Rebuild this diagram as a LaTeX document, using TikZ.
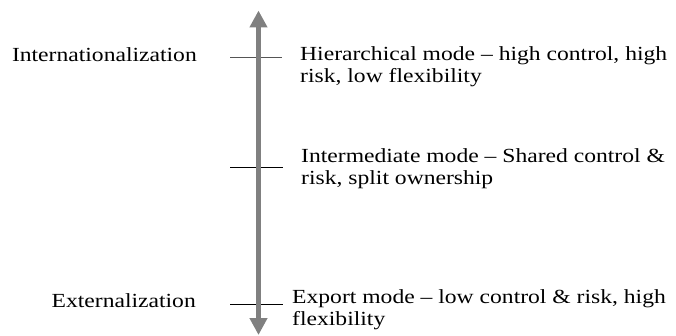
\documentclass[tikz,border=0pt]{standalone}
\usepackage{fontspec}
\setmainfont{Liberation Serif}[FakeStretch=1.18]
\usetikzlibrary{arrows.meta}
\definecolor{axisgray}{RGB}{128,128,128}
\definecolor{tickgray}{RGB}{85,85,85}
\tikzset{
  axis/.style={line width=5.5pt, draw=axisgray,
    {Triangle[length=17pt,width=17pt]}-{Triangle[length=17pt,width=17pt]}},
  tickline/.style={line width=1pt, draw=black},
  lbl/.style={inner sep=0pt, anchor=base west, font=\fontsize{20}{22}\selectfont},
  side/.style={inner sep=0pt, anchor=base east, font=\fontsize{20}{22}\selectfont},
}
\newcommand{\twolines}[2]{\begin{tabular}[t]{@{}l@{}}#1\\#2\end{tabular}}
\begin{document}
\begin{tikzpicture}[x=1pt,y=-1pt]
\useasboundingbox (0,0) rectangle (676,336);
\coordinate (top) at (258.5,10.5);
\coordinate (bot) at (258.5,335);
\coordinate (t1l) at (230,57.3);
\coordinate (t1r) at (282,57.3);
\coordinate (t2l) at (230,168);
\coordinate (t2r) at (283,168);
\coordinate (t3l) at (230,304);
\coordinate (t3r) at (283,304);
\draw[tickline, draw=tickgray] (t1l) -- (t1r);
\draw[tickline] (t2l) -- (t2r);
\draw[tickline] (t3l) -- (t3r);
\draw[axis] (bot) -- (top);
\node[side] (intl) at (197,62) {Internationalization};
\node[side] (extl) at (196,307) {Externalization};
\node[lbl] (hier) at (300,61) {\twolines{Hierarchical mode -- high control, high}{risk, low flexibility}};
\node[lbl] (inter) at (301,163) {\twolines{Intermediate mode -- Shared control \&}{risk, split ownership}};
\node[lbl] (exp) at (292,303) {\twolines{Export mode -- low control \& risk, high}{flexibility}};
\end{tikzpicture}
\end{document}
